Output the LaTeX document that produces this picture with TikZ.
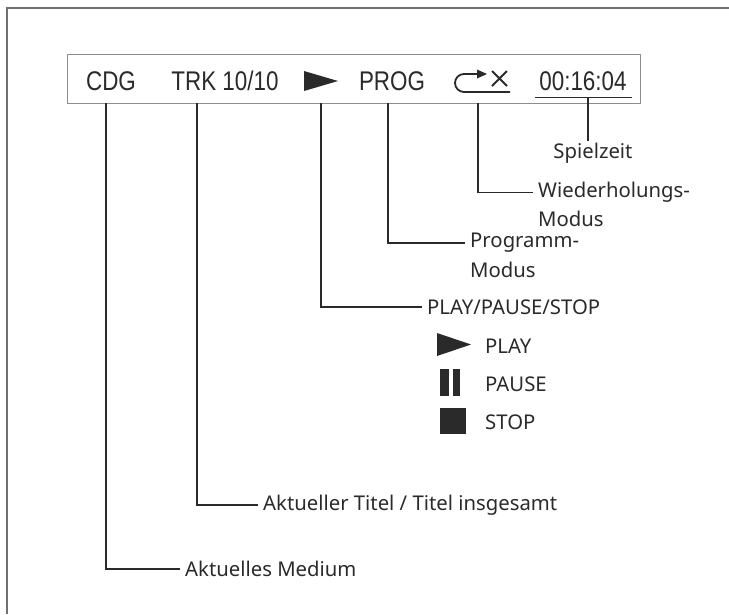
\documentclass[tikz,border=0pt]{standalone}
\usepackage{fontspec}
\setmainfont{Noto Sans}
\newfontfamily\dispfont[FakeStretch=0.83]{Liberation Sans}
\usetikzlibrary{arrows.meta}
\definecolor{ink}{HTML}{2A2A2A}
\definecolor{frame}{HTML}{707070}
\tikzset{
  lbl/.style={anchor=west,inner sep=5pt,text=ink,font=\fontsize{20.3}{24}\selectfont},
  disp/.style={inner sep=0pt,text=ink,font=\dispfont\fontsize{27}{30}\selectfont},
  lead/.style={draw=ink,line width=1.2pt},
  sym/.style={fill=ink},
}
\begin{document}
\begin{tikzpicture}[x=1pt,y=-1pt]
\useasboundingbox (0,0) rectangle (729,614);
% outer frame (open on the right and bottom)
\draw[frame,line width=1.3pt] (7,614) -- (7,8) -- (729,8);
% display box
\node[draw=frame!80,line width=1.2pt,minimum width=573pt,minimum height=49pt,inner sep=0pt,anchor=north west] (box) at (67,54) {};
% display items
\node[disp] (cdg) at (111,81) {CDG};
\node[disp] (trk) at (225,81) {TRK 10/10};
\fill[ink] (304,71) -- (338,81) -- (304,91) -- cycle;
\coordinate (play) at (321,81);
\node[disp] (prog) at (392,81) {PROG};
\node[disp] (time) at (583,81) {00:16:04};
\draw[ink,line width=1.3pt] (535,97.5) -- (632,97.5);
% repeat icon
\draw[ink,line width=1.8pt] (510,92) -- (464,92) arc[start angle=-90,end angle=-270,radius=9pt] -- (478,74);
\fill[ink] (477,69.5) -- (487,74) -- (477,78.5) -- cycle;
\draw[ink,line width=1.8pt] (492,71) -- (507,86) (507,71) -- (492,86);
\coordinate (rep) at (478,81);
% leader start points
\coordinate (t1) at (106,103);
\coordinate (t2) at (197,103);
\coordinate (t3) at (321,103);
\coordinate (t4) at (388,103);
\coordinate (t5) at (478,103);
\coordinate (t6) at (588,97.5);
% labels
\node[text=ink,font=\fontsize{20.3}{24}\selectfont,inner sep=2pt] (spiel) at (593,153) {Spielzeit};
\node[lbl] (wied) at (533,192.5) {Wiederholungs-};
\node[lbl] (wied2) at ([yshift=-26pt]wied.west) {Modus};
\node[lbl] (progm) at (465,243) {Programm-};
\node[lbl] (progm2) at ([yshift=-27pt]progm.west) {Modus};
\node[lbl] (pps) at (422,307) {PLAY/PAUSE/STOP};
\node[lbl] (plbl) at (480,346) {PLAY};
\node[lbl] (palbl) at (480,384) {PAUSE};
\node[lbl] (slbl) at (480,422) {STOP};
\node[lbl] (titel) at (258,505) {Aktueller Titel / Titel insgesamt};
\node[lbl] (medium) at (180,569) {Aktuelles Medium};
% state symbols
\fill[ink] (437,333) -- (471,344.5) -- (437,356) -- cycle;
\fill[ink] (440,369) rectangle (449,396);
\fill[ink] (453,369) rectangle (460,396);
\fill[ink] (440,408) rectangle (466,434);
% leaders
\draw[lead] (t6) -- (t6 |- spiel.north);
\draw[lead] (t5) |- (wied.west);
\draw[lead] (t4) |- (progm.west);
\draw[lead] (t3) |- (pps.west);
\draw[lead] (t2) |- (titel.west);
\draw[lead] (t1) |- (medium.west);
\end{tikzpicture}
\end{document}
